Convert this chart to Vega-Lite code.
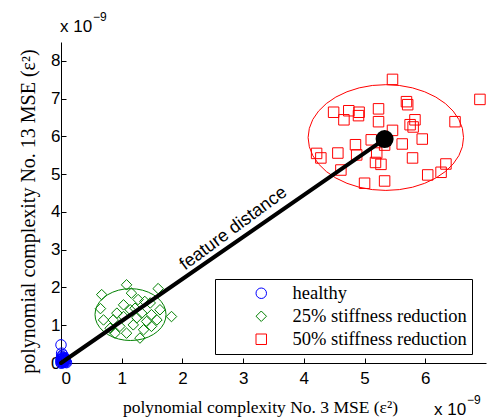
{
  "$schema": "https://vega.github.io/schema/vega-lite/v6.json",
  "width": 425,
  "height": 321,
  "autosize": {"type": "none"},
  "padding": {"left": 61, "top": 42, "right": 2, "bottom": 55},
  "background": "white",
  "config": {
    "view": {"stroke": null},
    "axis": {
      "grid": false,
      "domainColor": "black",
      "tickColor": "black",
      "labelColor": "black",
      "titleColor": "black",
      "labelFont": "Liberation Sans",
      "labelFontSize": 17,
      "titleFont": "Liberation Serif",
      "titleFontWeight": "normal",
      "tickSize": -5
    },
    "legend": {
      "strokeColor": "black",
      "fillColor": "white",
      "padding": 5,
      "symbolOffset": 32,
      "labelFont": "Liberation Serif",
      "labelFontSize": 18.5,
      "labelColor": "black",
      "labelOffset": 22,
      "labelLimit": 0,
      "rowPadding": 4,
      "symbolSize": 110,
      "symbolStrokeWidth": 1,
      "cornerRadius": 0
    }
  },
  "datasets": {
    "pts": [
      {"x": 0.00, "y": 0.48, "cls": "healthy"},
      {"x": 0.01, "y": 0.26, "cls": "healthy"},
      {"x": 0.02, "y": 0.15, "cls": "healthy"},
      {"x": 0.00, "y": 0.10, "cls": "healthy"},
      {"x": 0.03, "y": 0.08, "cls": "healthy"},
      {"x": 0.05, "y": 0.05, "cls": "healthy"},
      {"x": 0.01, "y": 0.04, "cls": "healthy"},
      {"x": 0.02, "y": 0.02, "cls": "healthy"},
      {"x": 0.04, "y": 0.01, "cls": "healthy"},
      {"x": 0.00, "y": 0.00, "cls": "healthy"},
      {"x": 0.06, "y": 0.02, "cls": "healthy"},
      {"x": 0.03, "y": 0.12, "cls": "healthy"},
      {"x": 0.01, "y": 0.18, "cls": "healthy"},
      {"x": 0.07, "y": 0.06, "cls": "healthy"},
      {"x": 0.02, "y": 0.07, "cls": "healthy"},
      {"x": 0.05, "y": 0.10, "cls": "healthy"},
      {"x": 0.00, "y": 0.05, "cls": "healthy"},
      {"x": 0.03, "y": 0.03, "cls": "healthy"},
      {"x": 0.04, "y": 0.15, "cls": "healthy"},
      {"x": 0.01, "y": 0.00, "cls": "healthy"},
      {"x": 0.08, "y": 0.03, "cls": "healthy"},
      {"x": 0.06, "y": 0.08, "cls": "healthy"},
      {"x": 0.02, "y": 0.11, "cls": "healthy"},
      {"x": 0.04, "y": 0.06, "cls": "healthy"},
      {"x": 0.09, "y": 0.01, "cls": "healthy"},
      {"x": 0.01, "y": 0.09, "cls": "healthy"},
      {"x": 0.03, "y": 0.21, "cls": "healthy"},
      {"x": 0.07, "y": 0.12, "cls": "healthy"},
      {"x": 1.08, "y": 2.07, "cls": "25% stiffness reduction"},
      {"x": 0.67, "y": 1.81, "cls": "25% stiffness reduction"},
      {"x": 1.60, "y": 1.97, "cls": "25% stiffness reduction"},
      {"x": 1.16, "y": 1.85, "cls": "25% stiffness reduction"},
      {"x": 0.65, "y": 1.44, "cls": "25% stiffness reduction"},
      {"x": 1.82, "y": 1.23, "cls": "25% stiffness reduction"},
      {"x": 1.03, "y": 1.54, "cls": "25% stiffness reduction"},
      {"x": 1.27, "y": 1.68, "cls": "25% stiffness reduction"},
      {"x": 1.38, "y": 1.63, "cls": "25% stiffness reduction"},
      {"x": 1.47, "y": 1.59, "cls": "25% stiffness reduction"},
      {"x": 1.14, "y": 1.41, "cls": "25% stiffness reduction"},
      {"x": 1.22, "y": 1.45, "cls": "25% stiffness reduction"},
      {"x": 0.92, "y": 1.32, "cls": "25% stiffness reduction"},
      {"x": 0.86, "y": 1.14, "cls": "25% stiffness reduction"},
      {"x": 1.03, "y": 1.23, "cls": "25% stiffness reduction"},
      {"x": 1.33, "y": 1.32, "cls": "25% stiffness reduction"},
      {"x": 1.49, "y": 1.28, "cls": "25% stiffness reduction"},
      {"x": 1.41, "y": 1.10, "cls": "25% stiffness reduction"},
      {"x": 0.70, "y": 1.14, "cls": "25% stiffness reduction"},
      {"x": 0.97, "y": 0.97, "cls": "25% stiffness reduction"},
      {"x": 1.19, "y": 1.01, "cls": "25% stiffness reduction"},
      {"x": 1.58, "y": 1.14, "cls": "25% stiffness reduction"},
      {"x": 1.36, "y": 0.88, "cls": "25% stiffness reduction"},
      {"x": 1.49, "y": 0.97, "cls": "25% stiffness reduction"},
      {"x": 0.89, "y": 0.79, "cls": "25% stiffness reduction"},
      {"x": 1.08, "y": 0.79, "cls": "25% stiffness reduction"},
      {"x": 1.30, "y": 0.66, "cls": "25% stiffness reduction"},
      {"x": 0.81, "y": 0.92, "cls": "25% stiffness reduction"},
      {"x": 1.63, "y": 1.41, "cls": "25% stiffness reduction"},
      {"x": 1.25, "y": 1.20, "cls": "25% stiffness reduction"},
      {"x": 5.46, "y": 7.51, "cls": "50% stiffness reduction"},
      {"x": 6.90, "y": 6.98, "cls": "50% stiffness reduction"},
      {"x": 4.49, "y": 6.64, "cls": "50% stiffness reduction"},
      {"x": 4.74, "y": 6.68, "cls": "50% stiffness reduction"},
      {"x": 4.91, "y": 6.64, "cls": "50% stiffness reduction"},
      {"x": 4.90, "y": 6.55, "cls": "50% stiffness reduction"},
      {"x": 4.66, "y": 6.44, "cls": "50% stiffness reduction"},
      {"x": 5.23, "y": 6.73, "cls": "50% stiffness reduction"},
      {"x": 5.69, "y": 6.92, "cls": "50% stiffness reduction"},
      {"x": 5.71, "y": 6.84, "cls": "50% stiffness reduction"},
      {"x": 5.23, "y": 6.39, "cls": "50% stiffness reduction"},
      {"x": 5.83, "y": 6.44, "cls": "50% stiffness reduction"},
      {"x": 5.75, "y": 6.31, "cls": "50% stiffness reduction"},
      {"x": 5.80, "y": 6.25, "cls": "50% stiffness reduction"},
      {"x": 6.49, "y": 6.39, "cls": "50% stiffness reduction"},
      {"x": 5.46, "y": 6.16, "cls": "50% stiffness reduction"},
      {"x": 5.11, "y": 5.91, "cls": "50% stiffness reduction"},
      {"x": 5.95, "y": 5.93, "cls": "50% stiffness reduction"},
      {"x": 5.62, "y": 5.80, "cls": "50% stiffness reduction"},
      {"x": 4.85, "y": 5.78, "cls": "50% stiffness reduction"},
      {"x": 5.33, "y": 5.77, "cls": "50% stiffness reduction"},
      {"x": 4.21, "y": 5.55, "cls": "50% stiffness reduction"},
      {"x": 4.28, "y": 5.43, "cls": "50% stiffness reduction"},
      {"x": 4.56, "y": 5.56, "cls": "50% stiffness reduction"},
      {"x": 4.87, "y": 5.51, "cls": "50% stiffness reduction"},
      {"x": 5.20, "y": 5.56, "cls": "50% stiffness reduction"},
      {"x": 5.79, "y": 5.43, "cls": "50% stiffness reduction"},
      {"x": 5.18, "y": 5.31, "cls": "50% stiffness reduction"},
      {"x": 5.27, "y": 5.26, "cls": "50% stiffness reduction"},
      {"x": 4.61, "y": 5.11, "cls": "50% stiffness reduction"},
      {"x": 6.34, "y": 5.27, "cls": "50% stiffness reduction"},
      {"x": 6.26, "y": 5.05, "cls": "50% stiffness reduction"},
      {"x": 6.04, "y": 4.98, "cls": "50% stiffness reduction"},
      {"x": 5.00, "y": 4.76, "cls": "50% stiffness reduction"},
      {"x": 5.33, "y": 4.82, "cls": "50% stiffness reduction"}
    ],
    "ellR": [
      {"i": 0, "x": 6.63, "y": 5.97}, {"i": 1, "x": 6.611, "y": 6.213}, {"i": 2, "x": 6.553, "y": 6.449},
      {"i": 3, "x": 6.459, "y": 6.67}, {"i": 4, "x": 6.331, "y": 6.87}, {"i": 5, "x": 6.173, "y": 7.042},
      {"i": 6, "x": 5.99, "y": 7.182}, {"i": 7, "x": 5.788, "y": 7.286}, {"i": 8, "x": 5.572, "y": 7.349},
      {"i": 9, "x": 5.35, "y": 7.37}, {"i": 10, "x": 5.128, "y": 7.349}, {"i": 11, "x": 4.912, "y": 7.286},
      {"i": 12, "x": 4.71, "y": 7.182}, {"i": 13, "x": 4.527, "y": 7.042}, {"i": 14, "x": 4.37, "y": 6.87},
      {"i": 15, "x": 4.242, "y": 6.67}, {"i": 16, "x": 4.147, "y": 6.449}, {"i": 17, "x": 4.09, "y": 6.213},
      {"i": 18, "x": 4.07, "y": 5.97}, {"i": 19, "x": 4.09, "y": 5.727}, {"i": 20, "x": 4.147, "y": 5.491},
      {"i": 21, "x": 4.242, "y": 5.27}, {"i": 22, "x": 4.37, "y": 5.07}, {"i": 23, "x": 4.527, "y": 4.898},
      {"i": 24, "x": 4.71, "y": 4.758}, {"i": 25, "x": 4.912, "y": 4.654}, {"i": 26, "x": 5.128, "y": 4.591},
      {"i": 27, "x": 5.35, "y": 4.57}, {"i": 28, "x": 5.572, "y": 4.591}, {"i": 29, "x": 5.788, "y": 4.654},
      {"i": 30, "x": 5.99, "y": 4.758}, {"i": 31, "x": 6.173, "y": 4.898}, {"i": 32, "x": 6.331, "y": 5.07},
      {"i": 33, "x": 6.459, "y": 5.27}, {"i": 34, "x": 6.553, "y": 5.491}, {"i": 35, "x": 6.611, "y": 5.727},
      {"i": 36, "x": 6.63, "y": 5.97}
    ],
    "ellG": [
      {"i": 0, "x": 1.73, "y": 1.282}, {"i": 1, "x": 1.721, "y": 1.401}, {"i": 2, "x": 1.695, "y": 1.517},
      {"i": 3, "x": 1.652, "y": 1.625}, {"i": 4, "x": 1.593, "y": 1.723}, {"i": 5, "x": 1.521, "y": 1.808},
      {"i": 6, "x": 1.438, "y": 1.876}, {"i": 7, "x": 1.345, "y": 1.927}, {"i": 8, "x": 1.247, "y": 1.958},
      {"i": 9, "x": 1.145, "y": 1.968}, {"i": 10, "x": 1.043, "y": 1.958}, {"i": 11, "x": 0.945, "y": 1.927},
      {"i": 12, "x": 0.853, "y": 1.876}, {"i": 13, "x": 0.769, "y": 1.808}, {"i": 14, "x": 0.697, "y": 1.723},
      {"i": 15, "x": 0.638, "y": 1.625}, {"i": 16, "x": 0.595, "y": 1.517}, {"i": 17, "x": 0.569, "y": 1.401},
      {"i": 18, "x": 0.56, "y": 1.282}, {"i": 19, "x": 0.569, "y": 1.163}, {"i": 20, "x": 0.595, "y": 1.047},
      {"i": 21, "x": 0.638, "y": 0.939}, {"i": 22, "x": 0.697, "y": 0.841}, {"i": 23, "x": 0.769, "y": 0.756},
      {"i": 24, "x": 0.853, "y": 0.688}, {"i": 25, "x": 0.945, "y": 0.637}, {"i": 26, "x": 1.043, "y": 0.606},
      {"i": 27, "x": 1.145, "y": 0.596}, {"i": 28, "x": 1.247, "y": 0.606}, {"i": 29, "x": 1.345, "y": 0.637},
      {"i": 30, "x": 1.438, "y": 0.688}, {"i": 31, "x": 1.521, "y": 0.756}, {"i": 32, "x": 1.593, "y": 0.841},
      {"i": 33, "x": 1.652, "y": 0.939}, {"i": 34, "x": 1.695, "y": 1.047}, {"i": 35, "x": 1.721, "y": 1.163},
      {"i": 36, "x": 1.73, "y": 1.282}
    ],
    "dist": [{"x": 0, "y": 0, "x2": 5.33, "y2": 5.93}],
    "centroid": [{"x": 5.33, "y": 5.93}],
    "label": [{"x": 2.89, "y": 3.45, "t": "feature distance"}],
    "topnote": [{"x": 0, "y": 8.5}],
    "botnote": [{"x": 7, "y": 0}]
  },
  "encoding": {
    "x": {
      "field": "x",
      "type": "quantitative",
      "scale": {"domain": [0, 7], "nice": false, "zero": false},
      "axis": {
        "values": [0, 1, 2, 3, 4, 5, 6],
        "title": "polynomial complexity No. 3 MSE (ε²)",
        "titleFontSize": 17.5,
        "labelPadding": 12,
        "titlePadding": 12,
        "titleX": 199
      }
    },
    "y": {
      "field": "y",
      "type": "quantitative",
      "scale": {"domain": [0, 8.5], "nice": false, "zero": false},
      "axis": {
        "values": [0, 1, 2, 3, 4, 5, 6, 7, 8],
        "title": "polynomial complexity No. 13 MSE (ε²)",
        "titleFontSize": 20,
        "labelPadding": 6,
        "titlePadding": 12,
        "titleY": 169
      }
    }
  },
  "layer": [
    {
      "data": {"name": "pts"},
      "mark": {"type": "point", "filled": false, "strokeWidth": 1, "size": 110, "opacity": 1},
      "encoding": {
        "shape": {
          "field": "cls",
          "type": "nominal",
          "scale": {"domain": ["healthy", "25% stiffness reduction", "50% stiffness reduction"], "range": ["circle", "diamond", "square"]},
          "legend": {"title": null, "orient": "none", "legendX": 154, "legendY": 237}
        },
        "color": {
          "field": "cls",
          "type": "nominal",
          "scale": {"domain": ["healthy", "25% stiffness reduction", "50% stiffness reduction"], "range": ["#0000ff", "#008000", "#ff0000"]},
          "legend": {"title": null, "orient": "none", "legendX": 154, "legendY": 237}
        }
      }
    },
    {
      "data": {"name": "ellR"},
      "mark": {"type": "line", "color": "#ff0000", "strokeWidth": 1},
      "encoding": {"order": {"field": "i", "type": "quantitative"}}
    },
    {
      "data": {"name": "ellG"},
      "mark": {"type": "line", "color": "#008000", "strokeWidth": 1},
      "encoding": {"order": {"field": "i", "type": "quantitative"}}
    },
    {
      "data": {"name": "dist"},
      "mark": {"type": "rule", "color": "black", "strokeWidth": 4, "strokeCap": "round"},
      "encoding": {"x2": {"field": "x2"}, "y2": {"field": "y2"}}
    },
    {
      "data": {"name": "centroid"},
      "mark": {"type": "point", "filled": true, "color": "black", "size": 324, "opacity": 1, "shape": "circle"}
    },
    {
      "data": {"name": "label"},
      "mark": {"type": "text", "font": "Liberation Sans", "fontSize": 18, "angle": 323.5, "align": "center", "baseline": "alphabetic", "color": "black"},
      "encoding": {"text": {"field": "t"}}
    },
    {
      "data": {"name": "topnote"},
      "mark": {"type": "text", "text": "x 10", "font": "Liberation Sans", "fontSize": 17, "align": "left", "baseline": "alphabetic", "dx": -1, "dy": -10, "color": "black"}
    },
    {
      "data": {"name": "topnote"},
      "mark": {"type": "text", "text": "−9", "font": "Liberation Sans", "fontSize": 12, "align": "left", "baseline": "alphabetic", "dx": 32, "dy": -21, "color": "black"}
    },
    {
      "data": {"name": "botnote"},
      "mark": {"type": "text", "text": "x 10", "font": "Liberation Sans", "fontSize": 17, "align": "left", "baseline": "alphabetic", "dx": -52, "dy": 52, "color": "black"}
    },
    {
      "data": {"name": "botnote"},
      "mark": {"type": "text", "text": "−9", "font": "Liberation Sans", "fontSize": 12, "align": "left", "baseline": "alphabetic", "dx": -19, "dy": 41, "color": "black"}
    }
  ]
}
